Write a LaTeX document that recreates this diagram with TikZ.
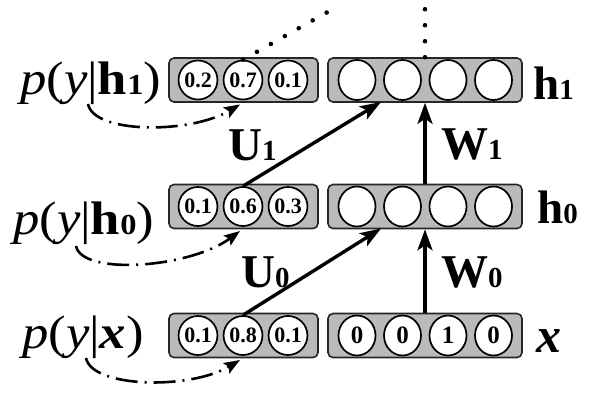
\documentclass[tikz,border=0pt]{standalone}
\usepackage{fontspec}
\setmainfont{Liberation Serif}
\usetikzlibrary{arrows.meta,shapes.geometric}
\newcommand{\subdig}[1]{{\fontsize{29}{29}\selectfont\bfseries #1}}
\newcommand{\widen}[1]{\scalebox{1.12}[1]{#1}}
\begin{document}
\begin{tikzpicture}[x=1pt,y=-1pt,
  layerbox/.style={draw=black!85, line width=1.6pt, fill=black!27, rounded corners=5pt, minimum height=44pt, inner sep=0pt},
  unit/.style={ellipse, draw=black, line width=1.7pt, fill=white, minimum width=37pt, minimum height=40pt, inner sep=0pt, font=\fontsize{25}{25}\selectfont\bfseries},
  punit/.style={unit, minimum width=34pt, minimum height=39pt, font=\fontsize{22}{22}\selectfont\bfseries},
  conn/.style={line width=3.4pt, -{Stealth[length=21pt,width=15pt,inset=5pt]}},
  prob/.style={line width=2.6pt, dash pattern=on 22pt off 7pt on 2pt off 7pt, -{Stealth[length=16pt,width=12pt,inset=3pt]}},
  dotline/.style={line width=4.6pt, line cap=round, dash pattern=on 0pt off 16pt},
  biglab/.style={font=\fontsize{47}{47}\selectfont, inner sep=0pt, anchor=base west},
]
\useasboundingbox (0,0) rectangle (591,392);

% ---- boxes
\node[layerbox, minimum width=149pt] (L1) at (243.5,80) {};
\node[layerbox, minimum width=194pt] (R1) at (425,80) {};
\node[layerbox, minimum width=149pt] (L0) at (243.5,206.5) {};
\node[layerbox, minimum width=194pt] (R0) at (425,206.5) {};
\node[layerbox, minimum width=149pt] (LX) at (243.5,335.5) {};
\node[layerbox, minimum width=194pt] (RX) at (425,335.5) {};

% ---- units, top row
\node[punit] (t1) at (198,80) {0.2};
\node[punit] (t2) at (243,80) {0.7};
\node[punit] (t3) at (288,80) {0.1};
\node[unit] (r11) at (357,80) {};
\node[unit] (r12) at (402.5,80) {};
\node[unit] (r13) at (448,80) {};
\node[unit] (r14) at (493.5,80) {};
% ---- middle row
\node[punit] (m1) at (198,206.5) {0.1};
\node[punit] (m2) at (243,206.5) {0.6};
\node[punit] (m3) at (288,206.5) {0.3};
\node[unit] (r01) at (357,206.5) {};
\node[unit] (r02) at (402.5,206.5) {};
\node[unit] (r03) at (448,206.5) {};
\node[unit] (r04) at (493.5,206.5) {};
% ---- bottom row
\node[punit] (b1) at (198,335.5) {0.1};
\node[punit] (b2) at (243,335.5) {0.8};
\node[punit] (b3) at (288,335.5) {0.1};
\node[unit] (x1) at (357,335.5) {0};
\node[unit] (x2) at (402.5,335.5) {0};
\node[unit] (x3) at (448,335.5) {1};
\node[unit] (x4) at (493.5,335.5) {0};

% ---- labels
\node[biglab] (ph1) at (20,94) {\widen{\textit{p}(\textit{y}|\textbf{h}\subdig{1})}};
\node[biglab] (ph0) at (13,234) {\widen{\textit{p}(\textit{y}|\textbf{h}\subdig{0})}};
\node[biglab] (px)  at (22,348) {\widen{\textit{p}(\textit{y}|\textbf{\textit{x}})}};
\node[biglab] (h1) at (533,99) {\textbf{h}\subdig{1}};
\node[biglab] (h0) at (537,223) {\textbf{h}\subdig{0}};
\node[biglab, font=\fontsize{50}{50}\selectfont] (xl) at (536,352) {\textbf{\textit{x}}};
\node[biglab] (U1) at (228,160) {\textbf{U}\subdig{1}};
\node[biglab] (W1) at (441,159) {\textbf{W}\subdig{1}};
\node[biglab] (U0) at (241,287) {\textbf{U}\subdig{0}};
\node[biglab] (W0) at (441,287) {\textbf{W}\subdig{0}};

% ---- connectors
\coordinate (u1end) at (381,102);
\coordinate (u0end) at (381,228.5);
\draw[conn] (m2.north) -- (u1end);
\draw[conn] (b2.north) -- (u0end);
\draw[conn] (R0.north) -- (R1.south);
\draw[conn] (RX.north) -- (R0.south);

% ---- dotted continuation
\coordinate (dtop1) at (340,5);
\coordinate (dtop2) at (425,5);
\draw[dotline] (t2.north) -- (dtop1);
\draw[dotline] (R1.north) -- (dtop2);

% ---- dash-dot probability arrows
\coordinate (s1) at (88,104);
\coordinate (e1) at (240,104.5);
\coordinate (s0) at (76,246);
\coordinate (e0) at (240,231);
\coordinate (sx) at (86,358);
\coordinate (ex) at (240,360);
\draw[prob] (s1) .. controls (94,134) and (190,134) .. (e1);
\draw[prob] (s0) .. controls (82,276) and (190,268) .. (e0);
\draw[prob] (sx) .. controls (92,388) and (190,390) .. (ex);
\end{tikzpicture}
\end{document}
